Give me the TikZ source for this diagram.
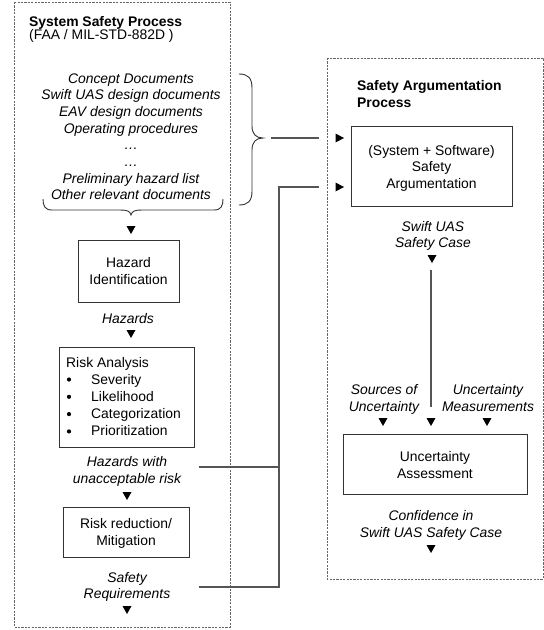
\documentclass[tikz,border=0pt]{standalone}
\usepackage{fontspec}
\setmainfont{Liberation Sans}
\definecolor{boxc}{HTML}{333333}
\definecolor{linec}{HTML}{555555}
\definecolor{dashc}{HTML}{666666}
\newcommand\tlines[6]{%
  \foreach \t [count=\i] in {#6} {\node[#5, anchor=base] (#1\i) at (#2, {#3+(\i-1)*#4}) {\t};}}
\newcommand\trid[2]{\fill[tri] (#1-4.5,#2-4) -- (#1+4.5,#2-4) -- (#1,#2+4) -- cycle;}
\newcommand\trir[2]{\fill[tri] (#1-4,#2-4.5) -- (#1-4,#2+4.5) -- (#1+4.5,#2) -- cycle;}
\begin{document}
\begin{tikzpicture}[x=1pt,y=-1pt,
  every node/.style={inner sep=0pt, font=\fontsize{13.9}{16.7}\selectfont},
  plain/.style={},
  lbl/.style={font=\fontsize{13.9}{16.7}\selectfont\itshape},
  ttl/.style={font=\fontsize{13.9}{16.7}\selectfont\bfseries},
  stepbox/.style={draw=boxc, line width=0.85pt},
  region/.style={draw=dashc, line width=0.9pt, dash pattern=on 2.2pt off 1.2pt},
  conn/.style={draw=linec, line width=1.1pt},
  bracec/.style={draw=boxc, line width=0.9pt},
  tri/.style={fill=black}
]
\useasboundingbox (0,0) rectangle (544,630);

% regions
\draw[region] (14,2) rectangle (230,627);
\draw[region] (327,58) rectangle (543,579);

% left column
\node[ttl, anchor=base west] (t1) at (29,26) {System Safety Process};
\node[anchor=base west] (t1b) at (29,39) {(FAA / MIL-STD-882D )};
\tlines{doc}{131}{83}{16.7}{lbl}{Concept Documents, Swift UAS design documents, EAV design documents, Operating procedures, …, …, Preliminary hazard list, Other relevant documents}

% braces
\draw[bracec] (43,199) .. controls (43,206) and (45,210) .. (52,210) -- (120,210)
  .. controls (127,210) and (130,211) .. (131,215)
  .. controls (132,211) and (135,210) .. (142,210) -- (214,210)
  .. controls (221,210) and (223,206) .. (223,199);
\draw[bracec] (239,74) .. controls (248,74) and (252,78) .. (252,88) -- (252,126)
  .. controls (252,134) and (256,138) .. (263,138)
  .. controls (256,138) and (252,142) .. (252,150) -- (252,191)
  .. controls (252,201) and (248,205) .. (239,205);

\trid{131}{230}
\node[stepbox, minimum width=101pt, minimum height=62pt] (hazid) at (128.5,271) {};
\tlines{hz}{128.5}{267}{17}{plain}{Hazard, Identification}
\tlines{hzo}{128}{323}{17}{lbl}{Hazards}
\trid{131}{334}

\node[stepbox, minimum width=135pt, minimum height=100pt] (risk) at (126.5,397) {};
\node[anchor=base west] (ra) at (66,367) {Risk Analysis};
\foreach \t [count=\i] in {Severity, Likelihood, Categorization, Prioritization} {
  \fill (69,{384+(\i-1)*17.3-4.5}) circle (2.1pt);
  \node[anchor=base west] (ri\i) at (91,{384+(\i-1)*17.3}) {\t};
}
\tlines{hu}{127}{466}{17}{lbl}{Hazards with, unacceptable risk}
\trid{127}{496}
\node[stepbox, minimum width=126pt, minimum height=50pt] (rr) at (126,532) {};
\tlines{rrt}{126}{528}{17}{plain}{Risk reduction/, Mitigation}
\tlines{sr}{127}{582}{16.5}{lbl}{Safety, Requirements}
\trid{127}{610}

% right column
\node[ttl, anchor=base west] (t2) at (357,90) {Safety Argumentation};
\node[ttl, anchor=base west] (t2b) at (357,107) {Process};
\node[stepbox, minimum width=161pt, minimum height=80pt] (sa) at (431.5,166) {};
\tlines{sat}{431.5}{155}{16.5}{plain}{{(System + Software)}, Safety, Argumentation}
\tlines{sc}{433}{231}{16.5}{lbl}{Swift UAS, Safety Case}
\trid{432}{259}
\tlines{su}{384}{394}{17}{lbl}{Sources of, Uncertainty}
\tlines{um}{488}{394}{17}{lbl}{Uncertainty, Measurements}
\trid{383}{422}
\trid{431}{422}
\trid{487}{422}
\node[stepbox, minimum width=184pt, minimum height=60pt] (ua) at (435,464) {};
\tlines{uat}{435}{461}{17}{plain}{Uncertainty, Assessment}
\tlines{ci}{431}{520}{17}{lbl}{Confidence in, Swift UAS Safety Case}
\trid{431}{549}

% connectors
\coordinate (bt) at (271,138);
\coordinate (a1) at (319,138);
\coordinate (a2) at (319,187);
\coordinate (j) at (279,187);
\coordinate (hl) at (199,467);
\coordinate (sl) at (199,587);
\coordinate (vt) at (431,270);
\coordinate (vb) at (431,407);
\trir{339.5}{138}
\trir{339.5}{187}
\draw[conn] (bt) -- (a1);
\draw[conn] (a2) -- (j) |- (sl);
\draw[conn] (hl) -- (hl -| j);
\draw[conn] (vt) -- (vb);
\end{tikzpicture}
\end{document}
